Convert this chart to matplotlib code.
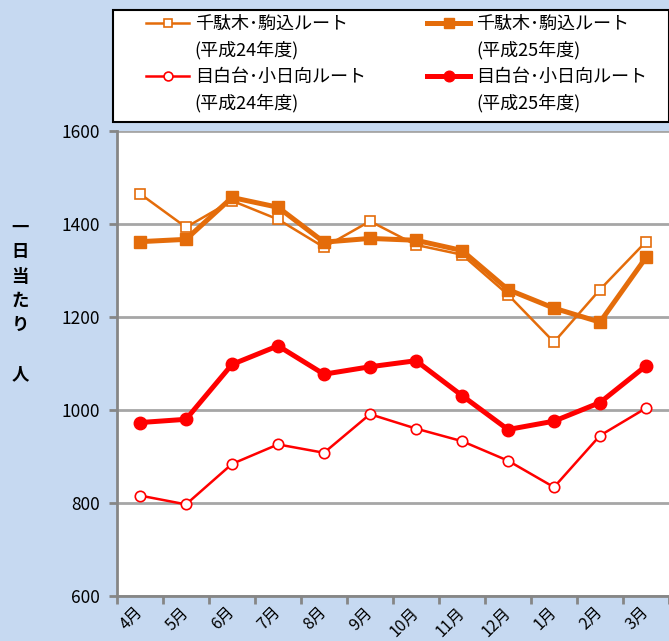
import matplotlib
matplotlib.use("Agg")
import matplotlib.pyplot as plt
from matplotlib.lines import Line2D
from matplotlib.patches import Rectangle

plt.rcParams['font.family'] = ['Noto Sans CJK JP', 'DejaVu Sans']

# データ（一日当たり利用者数）
months = ['4月', '5月', '6月', '7月', '8月', '9月', '10月', '11月', '12月', '1月', '2月', '3月']
sendagi_h24 = [1465, 1393, 1450, 1410, 1350, 1406, 1355, 1334, 1248, 1146, 1259, 1362]
sendagi_h25 = [1362, 1367, 1457, 1436, 1361, 1369, 1365, 1343, 1259, 1219, 1189, 1328]
mejiro_h24 = [816, 797, 884, 926, 908, 991, 960, 933, 891, 834, 945, 1004]
mejiro_h25 = [973, 980, 1098, 1138, 1077, 1093, 1106, 1031, 958, 976, 1016, 1095]

y_ticks = [600, 800, 1000, 1200, 1400, 1600]
route_sendagi = '千駄木･駒込ルート'
route_mejiro = '目白台･小日向ルート'
year_h24 = '(平成24年度)'
year_h25 = '(平成25年度)'

orange = '#E46C0A'
red = '#FF0000'
bg = '#C6D9F1'
grid_c = '#A6A6A6'
axis_c = '#868686'

fig = plt.figure(figsize=(6.69, 6.41), dpi=100)
fig.patch.set_facecolor(bg)
ax = fig.add_axes([117 / 669, 45 / 641, 552 / 669, 465 / 641])
ax.set_facecolor('white')

x = list(range(len(months)))

l1, = ax.plot(x, sendagi_h24, color=orange, lw=1.8, marker='s', ms=7.5,
              mfc='white', mec=orange, mew=1.2, zorder=3)
l2, = ax.plot(x, sendagi_h25, color=orange, lw=3.6, marker='s', ms=9,
              mfc=orange, mec=orange, zorder=4)
l3, = ax.plot(x, mejiro_h24, color=red, lw=1.8, marker='o', ms=7.5,
              mfc='white', mec=red, mew=1.2, zorder=3)
l4, = ax.plot(x, mejiro_h25, color=red, lw=3.6, marker='o', ms=9,
              mfc=red, mec=red, zorder=4)

ax.set_ylim(600, 1600)
ax.set_xlim(-0.5, len(months) - 0.5)
ax.set_yticks(y_ticks)
ax.yaxis.grid(True, color=grid_c, lw=2)
ax.set_axisbelow(True)

ax.set_xticks(x)
ax.set_xticklabels(months, rotation=45, ha='right', va='center', rotation_mode='anchor')
ax.set_xticks([i - 0.5 for i in range(len(months) + 1)], minor=True)
ax.tick_params(axis='x', which='major', length=0, pad=10, labelsize=11.5)
ax.tick_params(axis='x', which='minor', length=6, width=2, color=axis_c, direction='out')
ax.tick_params(axis='y', length=6, width=2, color=axis_c, labelsize=12.5, pad=6)

for side in ['top', 'right']:
    ax.spines[side].set_visible(False)
for side in ['left', 'bottom']:
    ax.spines[side].set_color(axis_c)
    ax.spines[side].set_linewidth(2)

fig.text(20 / 669, 1 - 301 / 641, '一\n日\n当\nた\nり\n\n人', fontsize=12.5,
         fontweight='bold', ha='center', va='center', linespacing=1.45)

# 凡例の枠
fig.patches.append(Rectangle((113 / 669, 1 - 122 / 641), 556 / 669, 112 / 641,
                             transform=fig.transFigure, facecolor='white',
                             edgecolor='black', lw=1.5, zorder=0))

# 凡例（2行ラベルを揃えるため空のハンドルを挟む）
blank = Line2D([], [], color='none')
handles = [l1, blank, l3, blank, l2, blank, l4, blank]
labels = [route_sendagi, year_h24, route_mejiro, year_h24,
          route_sendagi, year_h25, route_mejiro, year_h25]
leg = fig.legend(handles, labels, ncol=2, loc='upper left',
                 bbox_to_anchor=(146 / 669, 1 - 15 / 641),
                 fontsize=13, frameon=False, handlelength=2.4,
                 handletextpad=0.3, labelspacing=0.45, columnspacing=3.4,
                 borderpad=0, borderaxespad=0, markerscale=0.85)

fig.savefig('out.png', dpi=100, facecolor=bg)
